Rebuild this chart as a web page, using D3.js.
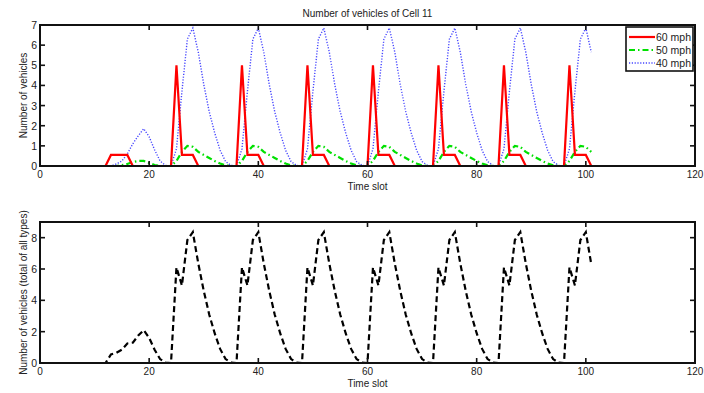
<!DOCTYPE html>
<html>
<head>
<meta charset="utf-8">
<script src="https://cdn.jsdelivr.net/npm/d3@7/dist/d3.min.js"></script>
<style>
  html, body { margin: 0; padding: 0; background: #fff; }
  svg { display: block; font-family: "Liberation Sans", Arial, Helvetica, sans-serif; }
</style>
</head>
<body>
<svg id="chart" width="704" height="393"></svg>
<script>
// Time slots 1..101
const timeSlots = d3.range(1, 102);

// Vehicles of 60 mph type in Cell 11
const speed60 = [
  0,0,0,0,0,0,0,0,0,0,0,0,
  0.55,0.55,0.55,0.55,
  0,0,0,0,0,0,0,0,
  5,0.55,0.55,0.55,0,0,0,0,0,0,0,0,
  5,0.55,0.55,0.55,0,0,0,0,0,0,0,0,
  5,0.55,0.55,0.55,0,0,0,0,0,0,0,0,
  5,0.55,0.55,0.55,0,0,0,0,0,0,0,0,
  5,0.55,0.55,0.55,0,0,0,0,0,0,0,0,
  5,0.55,0.55,0.55,0,0,0,0,0,0,0,0,
  5,0.55,0.55,0.55,0
];

// Vehicles of 50 mph type
const speed50 = [
  0,0,0,0,0,0,0,0,0,0,0,0,0,0,
  0.05,0.1,0.2,0.25,0.25,0.15,0.05,0,0,0,
  0.25,0.7,1.0,0.95,0.7,0.55,0.4,0.25,0.12,0.03,0,0,
  0.25,0.7,1.0,0.95,0.7,0.55,0.4,0.25,0.12,0.03,0,0,
  0.25,0.7,1.0,0.95,0.7,0.55,0.4,0.25,0.12,0.03,0,0,
  0.25,0.7,1.0,0.95,0.7,0.55,0.4,0.25,0.12,0.03,0,0,
  0.25,0.7,1.0,0.95,0.7,0.55,0.4,0.25,0.12,0.03,0,0,
  0.25,0.7,1.0,0.95,0.7,0.55,0.4,0.25,0.12,0.03,0,0,
  0.25,0.7,1.0,0.95,0.7
];

// Vehicles of 40 mph type
const speed40 = [
  0,0,0,0,0,0,0,0,0,0,0,0,0,
  0.1,0.25,0.6,1.1,1.5,1.85,1.45,0.8,0.25,0.03,0,
  0.85,3.7,6.3,6.85,5.65,4.05,2.7,1.65,0.78,0.22,0.03,0,
  0.85,3.7,6.3,6.85,5.65,4.05,2.7,1.65,0.78,0.22,0.03,0,
  0.85,3.7,6.3,6.85,5.65,4.05,2.7,1.65,0.78,0.22,0.03,0,
  0.85,3.7,6.3,6.85,5.65,4.05,2.7,1.65,0.78,0.22,0.03,0,
  0.85,3.7,6.3,6.85,5.65,4.05,2.7,1.65,0.78,0.22,0.03,0,
  0.85,3.7,6.3,6.85,5.65,4.05,2.7,1.65,0.78,0.22,0.03,0,
  0.85,3.7,6.3,6.85,5.65
];

// Total vehicles of all types
const totalAll = [
  0,0,0,0,0,0,0,0,0,0,0,0,
  0.55,0.65,0.85,1.25,1.3,1.75,2.1,1.6,0.85,0.25,0.03,0,
  6.1,4.95,7.85,8.35,6.35,4.6,3.1,1.9,0.9,0.25,0.03,0,
  6.1,4.95,7.85,8.35,6.35,4.6,3.1,1.9,0.9,0.25,0.03,0,
  6.1,4.95,7.85,8.35,6.35,4.6,3.1,1.9,0.9,0.25,0.03,0,
  6.1,4.95,7.85,8.35,6.35,4.6,3.1,1.9,0.9,0.25,0.03,0,
  6.1,4.95,7.85,8.35,6.35,4.6,3.1,1.9,0.9,0.25,0.03,0,
  6.1,4.95,7.85,8.35,6.35,4.6,3.1,1.9,0.9,0.25,0.03,0,
  6.1,4.95,7.85,8.35,6.3
];

const xTicks = [0, 20, 40, 60, 80, 100, 120];
const yTicksTop = [0, 1, 2, 3, 4, 5, 6, 7];
const yTicksBottom = [0, 2, 4, 6, 8];

const seriesTop = [
  { name: "60 mph", values: speed60, color: "#ff0000", width: 2.2, dash: null },
  { name: "50 mph", values: speed50, color: "#00e000", width: 2.2, dash: "6,3,1.5,3" },
  { name: "40 mph", values: speed40, color: "#4646ff", width: 1.4, dash: "1.2,1.6" }
];

const svg = d3.select("#chart");
const x = d3.scaleLinear().domain([0, 120]).range([40, 695]);

function panel(id, top, bottom, ymax, yTicks, yLabel) {
  const y = d3.scaleLinear().domain([0, ymax]).range([bottom, top]);
  const g = svg.append("g");
  g.append("clipPath").attr("id", id)
    .append("rect").attr("x", x(0)).attr("y", top).attr("width", x(120) - x(0)).attr("height", bottom - top);
  const data = g.append("g").attr("clip-path", `url(#${id})`);
  return { g, y, data, top, bottom, yTicks, yLabel };
}

function frame(p) {
  const { g, y, top, bottom, yTicks, yLabel } = p;
  const tl = 5;
  const axes = g.append("g");
  axes.append("rect")
    .attr("x", x(0)).attr("y", top).attr("width", x(120) - x(0)).attr("height", bottom - top)
    .attr("fill", "none").attr("stroke", "#111").attr("stroke-width", 2);
  // ticks mirrored on all four sides, pointing inward
  xTicks.forEach(t => {
    axes.append("line").attr("x1", x(t)).attr("x2", x(t)).attr("y1", bottom).attr("y2", bottom - tl)
      .attr("stroke", "#111").attr("stroke-width", 1.6);
    axes.append("line").attr("x1", x(t)).attr("x2", x(t)).attr("y1", top).attr("y2", top + tl)
      .attr("stroke", "#111").attr("stroke-width", 1.6);
    axes.append("text").attr("x", x(t)).attr("y", bottom + 11.5).attr("text-anchor", "middle")
      .attr("font-size", 10).attr("fill", "#222").text(t);
  });
  yTicks.forEach(t => {
    axes.append("line").attr("x1", x(0)).attr("x2", x(0) + tl).attr("y1", y(t)).attr("y2", y(t))
      .attr("stroke", "#111").attr("stroke-width", 1.6);
    axes.append("line").attr("x1", x(120)).attr("x2", x(120) - tl).attr("y1", y(t)).attr("y2", y(t))
      .attr("stroke", "#111").attr("stroke-width", 1.6);
    axes.append("text").attr("x", x(0) - 3).attr("y", y(t) + 4).attr("text-anchor", "end")
      .attr("font-size", 10.5).attr("fill", "#222").text(t);
  });
  axes.append("text").attr("x", (x(0) + x(120)) / 2).attr("y", bottom + 23.5).attr("text-anchor", "middle")
    .attr("font-size", 10).attr("fill", "#222").text("Time slot");
  axes.append("text")
    .attr("transform", `translate(27,${(top + bottom) / 2}) rotate(-90)`)
    .attr("text-anchor", "middle").attr("font-size", 10).attr("fill", "#222").text(yLabel);
}

// Upper panel: vehicles by speed type
const p1 = panel("clipTop", 25, 166, 7, yTicksTop, "Number of vehicles");
seriesTop.slice().reverse().forEach(s => {
  const line = d3.line().x((d, i) => x(timeSlots[i])).y(d => p1.y(d));
  p1.data.append("path").datum(s.values).attr("d", line)
    .attr("fill", "none").attr("stroke", s.color).attr("stroke-width", s.width)
    .attr("stroke-dasharray", s.dash).attr("stroke-linejoin", "miter");
});
frame(p1);

svg.append("text").attr("x", (x(0) + x(120)) / 2).attr("y", 17).attr("text-anchor", "middle")
  .attr("font-size", 10).attr("fill", "#222").text("Number of vehicles of Cell 11");

// Legend
const lg = svg.append("g");
lg.append("rect").attr("x", 626).attr("y", 27).attr("width", 67).attr("height", 44)
  .attr("fill", "#fff").attr("stroke", "#111").attr("stroke-width", 1.6);
seriesTop.forEach((s, i) => {
  const yy = 37 + i * 13;
  lg.append("line").attr("x1", 629).attr("x2", 655).attr("y1", yy).attr("y2", yy)
    .attr("stroke", s.color).attr("stroke-width", s.width).attr("stroke-dasharray", s.dash);
  lg.append("text").attr("x", 656).attr("y", yy + 4).attr("font-size", 10.5).attr("fill", "#222").text(s.name);
});

// Lower panel: total of all types
const p2 = panel("clipBottom", 222, 363, 9, yTicksBottom, "Number of vehicles (total of all types)");
const lineTotal = d3.line().x((d, i) => x(timeSlots[i])).y(d => p2.y(d));
p2.data.append("path").datum(totalAll).attr("d", lineTotal)
  .attr("fill", "none").attr("stroke", "#000").attr("stroke-width", 2.2)
  .attr("stroke-dasharray", "6,3.5");
frame(p2);
</script>
</body>
</html>
